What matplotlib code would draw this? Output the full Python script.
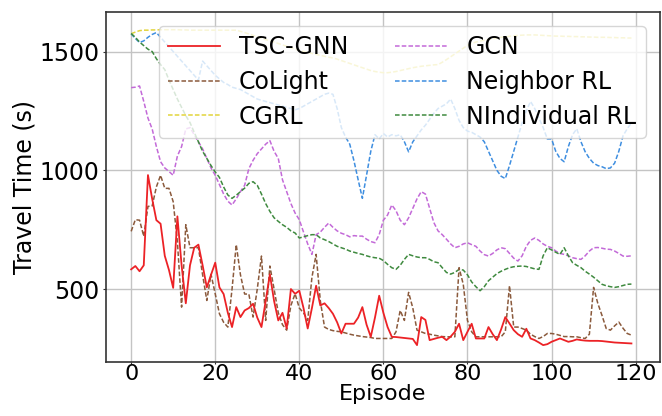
import matplotlib
matplotlib.use('Agg')
import matplotlib.pyplot as plt
import numpy as np

episodes = np.arange(120)

tsc_gnn = [583, 597, 575, 600, 980, 880, 790, 775, 640, 580,
           505, 806, 600, 440, 600, 674, 687, 600, 507, 560,
           611, 507, 479, 400, 340, 424, 382, 410, 420, 438,
           380, 340, 450, 562, 450, 368, 400, 334, 500, 480,
           493, 420, 334, 420, 514, 431, 440, 420, 396, 360,
           313, 354, 354, 354, 380, 424, 350, 299, 380, 472,
           400, 340, 299, 298, 296, 294, 292, 290, 264, 382,
           370, 285, 290, 295, 299, 285, 300, 320, 354, 285,
           320, 354, 292, 292, 292, 340, 310, 285, 330, 382,
           355, 327, 310, 299, 333, 292, 285, 275, 264, 268,
           278, 285, 292, 285, 278, 282, 288, 285, 283, 282,
           282, 282, 281, 279, 277, 275, 274, 273, 272, 271]

colight = [743, 792, 790, 722, 848, 850, 930, 979, 924, 924,
           868, 700, 424, 771, 674, 674, 674, 560, 452, 562,
           480, 396, 360, 340, 500, 687, 560, 479, 479, 382,
           500, 639, 368, 597, 500, 400, 350, 327, 431, 480,
           420, 400, 368, 549, 646, 450, 340, 330, 325, 322,
           320, 315, 310, 306, 303, 300, 298, 296, 292, 292,
           292, 292, 292, 320, 410, 368, 486, 420, 327, 320,
           313, 310, 306, 303, 300, 299, 299, 299, 590, 520,
           368, 320, 299, 299, 299, 299, 299, 299, 299, 320,
           514, 340, 340, 334, 327, 310, 300, 292, 300, 313,
           313, 310, 305, 300, 300, 299, 299, 295, 292, 310,
           507, 440, 389, 334, 327, 345, 361, 335, 313, 306]

cgrl = [1575, 1582, 1588, 1590, 1590, 1591, 1591, 1592, 1592, 1592,
        1592, 1592, 1591, 1591, 1590, 1590, 1590, 1590, 1590, 1590,
        1590, 1590, 1590, 1590, 1590, 1590, 1585, 1580, 1574, 1568,
        1562, 1556, 1550, 1545, 1540, 1534, 1528, 1522, 1516, 1510,
        1505, 1500, 1496, 1492, 1488, 1484, 1480, 1476, 1473, 1468,
        1462, 1456, 1450, 1444, 1438, 1432, 1426, 1420, 1416, 1413,
        1411, 1411, 1413, 1416, 1420, 1424, 1428, 1432, 1435, 1438,
        1440, 1442, 1444, 1445, 1455, 1466, 1478, 1490, 1502, 1514,
        1526, 1534, 1540, 1544, 1548, 1551, 1554, 1557, 1560, 1562,
        1564, 1566, 1568, 1569, 1570, 1570, 1570, 1569, 1568, 1567,
        1566, 1565, 1565, 1564, 1564, 1563, 1563, 1562, 1562, 1561,
        1561, 1560, 1560, 1560, 1559, 1559, 1558, 1558, 1557, 1557]

gcn = [1348, 1350, 1355, 1290, 1220, 1174, 1100, 1036, 1010, 995,
       979, 1060, 1100, 1174, 1180, 1150, 1120, 1090, 1050, 1010,
       979, 940, 900, 870, 854, 880, 910, 937, 1007, 1042,
       1070, 1090, 1110, 1125, 1080, 1050, 960, 910, 860, 820,
       792, 740, 690, 646, 729, 740, 760, 778, 760, 745,
       735, 729, 720, 725, 723, 723, 710, 700, 695, 729,
       790, 812, 854, 830, 790, 771, 800, 840, 880, 910,
       900, 840, 780, 745, 729, 710, 690, 674, 680, 690,
       695, 687, 680, 660, 645, 639, 650, 665, 674, 670,
       650, 630, 618, 640, 680, 705, 715, 705, 690, 680,
       674, 660, 650, 646, 640, 632, 628, 625, 640, 660,
       674, 675, 672, 668, 667, 660, 650, 639, 638, 640]

neighbor_rl = [1575, 1555, 1538, 1545, 1560, 1572, 1580, 1560, 1540, 1520,
               1500, 1480, 1460, 1440, 1420, 1400, 1380, 1460, 1440, 1420,
               1400, 1385, 1370, 1361, 1350, 1345, 1340, 1330, 1320, 1310,
               1300, 1295, 1290, 1285, 1280, 1275, 1270, 1265, 1260, 1255,
               1260, 1270, 1280, 1290, 1300, 1310, 1320, 1325, 1320, 1260,
               1180, 1140, 1110, 1040, 960, 882, 980, 1080, 1150, 1132,
               1155, 1140, 1150, 1145, 1150, 1120, 1078, 1120, 1145, 1170,
               1190, 1215, 1240, 1260, 1270, 1280, 1300, 1260, 1210, 1180,
               1165, 1160, 1150, 1140, 1120, 1080, 1040, 1000, 975, 965,
               1020, 1080, 1140, 1200, 1250, 1290, 1260, 1220, 1180, 1132,
               1132, 1080, 1050, 1036, 1100, 1150, 1175, 1120, 1078, 1050,
               1030, 1020, 1015, 1007, 1010, 1030, 1080, 1145, 1175, 1200]

individual_rl = [1576, 1560, 1540, 1525, 1510, 1500, 1470, 1445, 1424, 1380,
                 1340, 1300, 1265, 1230, 1201, 1160, 1120, 1080, 1050, 1020,
                 993, 970, 930, 896, 882, 895, 910, 925, 945, 952,
                 937, 900, 860, 827, 800, 785, 771, 760, 745, 736,
                 715, 720, 725, 729, 729, 715, 708, 700, 690, 680,
                 674, 668, 660, 655, 650, 646, 640, 635, 632, 630,
                 620, 604, 590, 583, 600, 625, 646, 640, 635, 632,
                 632, 625, 615, 611, 590, 570, 563, 570, 583, 580,
                 560, 530, 510, 493, 510, 535, 550, 565, 575, 583,
                 590, 594, 596, 597, 595, 590, 585, 583, 640, 674,
                 665, 655, 646, 674, 640, 611, 600, 590, 575, 563,
                 550, 535, 520, 514, 510, 507, 510, 515, 520, 521]

plt.rcParams['font.family'] = 'DejaVu Sans'
plt.rcParams['font.size'] = 17

fig = plt.figure(figsize=(6.62, 4.16), dpi=100)
ax = fig.add_axes([0.160, 0.131, 0.837, 0.841])

dash = (3, 1.4)
ax.plot(episodes, tsc_gnn, color='#ec2226', lw=1.3, label='TSC-GNN', zorder=6)
ax.plot(episodes, colight, '--', dashes=dash, color='#8b5a3c', lw=1.1, label='CoLight', zorder=5)
ax.plot(episodes, cgrl, '--', dashes=dash, color='#e2d43c', lw=1.1, label='CGRL', zorder=3)
ax.plot(episodes, gcn, '--', dashes=dash, color='#c36ad8', lw=1.1, label='GCN', zorder=4)
ax.plot(episodes, neighbor_rl, '--', dashes=dash, color='#3e8ee0', lw=1.1, label='Neighbor RL', zorder=3)
ax.plot(episodes, individual_rl, '--', dashes=dash, color='#3f8a3f', lw=1.1, label='NIndividual RL', zorder=4)

ax.set_xlim(-6, 125.8)
ax.set_ylim(195, 1668)
ax.set_xticks(range(0, 121, 20))
ax.set_yticks([500, 1000, 1500])
ax.grid(True, color='#c4c4c4', lw=1.0)
ax.set_axisbelow(True)
for s in ax.spines.values():
    s.set_color('#333333')
    s.set_linewidth(1.2)
ax.tick_params(axis='y', labelsize=17, length=2.5, pad=2, color='#333333')
ax.tick_params(axis='x', labelsize=16, length=1.5, pad=0.5, color='#333333')

ax.set_xlabel('Episode', fontsize=16, labelpad=0)
ax.set_ylabel('Travel Time (s)', fontsize=17, labelpad=2)

ax.legend(loc='upper right', ncol=2, fontsize=17, framealpha=0.8,
          labelspacing=0.45, handlelength=2.2, columnspacing=2.0,
          borderaxespad=0.6)

fig.savefig('out.png', dpi=100)
